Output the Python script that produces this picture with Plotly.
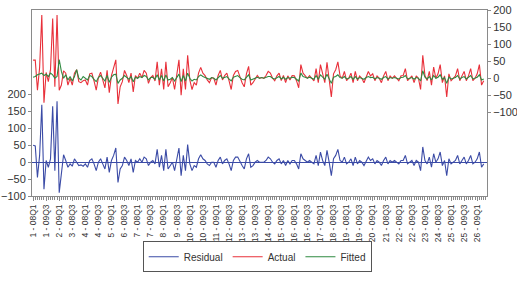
import plotly.graph_objects as go

residual = [50, 48, -45, 20, 170, -80, 5, -15, 10, 165, -25, 180, -90, -40, 22, 5,
            -15, -5, -12, 10, 0, -10, -8, -12, -5, -15, 5, 10, -5, -25, 0,
            10, -5, -20, 15, -30, 5, 20, 42, -60, -20, -10, 15, 5, -10, 10,
            -30, 5, 0, 10, 0, 15, 10, -10, 0, 5, -5, 38, -15, 20, -25,
            38, -20, -10, 0, -25, 5, 42, -40, 20, -25, 52, -5, -25, -10, -15,
            10, 22, 10, 5, -5, -10, 0, 0, -15, 5, 15, -5, 5, 10, -5,
            -25, 5, 15, 15, 0, -10, -20, 10, 25, -15, -10, 0, 5, 0, 0,
            0, 5, 15, 10, 0, -5, 5, 10, -5, 5, -10, 5, -5, 5, 5,
            -5, -20, 25, 10, 5, 0, 5, 0, -5, 20, -10, 30, 5, -10, 35,
            0, -40, 10, 20, 38, 5, 0, 15, -5, 0, 10, -10, 15, -5, 5,
            0, -10, 5, 15, 5, 10, -5, 5, 0, -10, 5, 15, -5, 5, 0,
            5, 0, -5, 5, 5, 20, -5, 0, 5, -10, 5, 0, -25, 45, 5,
            -5, 15, -15, 25, 0, 10, 30, -10, 5, -40, 10, -5, 0, 5, 20,
            -5, 5, 15, -5, 5, 20, -5, 0, 10, 30, -15, -5]

fitted = [3, 5, 10, 12, 15, 8, 12, 5, 15, 10, 0, 5, 55, 20, 0, 10,
          -5, 5, -8, 5, 25, 0, -5, 5, 0, -5, 8, 5, -3, -10, 2,
          8, 0, -8, 8, -12, 3, 10, 12, -15, -5, 0, 8, 3, -3, 5,
          -10, 3, 0, 5, 2, 8, 5, -5, 2, 3, -3, 10, -5, 8, -8,
          10, -5, -3, 2, -8, 3, 12, -10, 8, -8, 15, 0, -8, -3, -5,
          5, 10, 5, 3, 0, -3, 2, 0, -5, 3, 8, 0, 3, 5, -2,
          -8, 3, 5, 8, 2, -3, -5, 3, 10, -5, -3, 0, 3, 0, 2,
          0, 3, 5, 5, 0, -2, 2, 5, -2, 3, -3, 2, 0, 3, 2,
          -2, -8, 15, 5, 3, 0, 3, 0, -3, 8, -3, 10, 3, -3, 12,
          0, -15, 3, 5, 10, 2, 0, 5, -2, 0, 5, -3, 5, -2, 2,
          0, -3, 2, 5, 2, 3, -2, 2, 0, -3, 2, 5, -2, 2, 0,
          2, 0, -2, 2, 3, 8, -2, 0, 2, -3, 2, 0, -8, 22, 3,
          -2, 5, -5, 8, 0, 3, 10, -3, 2, -15, 3, -2, 0, 2, 8,
          -2, 2, 5, -2, 2, 8, -2, 0, 3, 10, -5, -2]

actual = [53, 53, -35, 32, 185, -72, 17, -10, 25, 175, -25, 185, -35, -20, 22, 15,
          -20, 0, -20, 15, 25, -10, -13, -7, -5, -20, 13, 15, -8, -35, 2,
          18, -5, -28, 23, -42, 8, 30, 54, -75, -25, -10, 23, 8, -13, 15,
          -40, 8, 0, 15, 2, 23, 15, -15, 2, 8, -8, 48, -20, 28, -33,
          48, -25, -13, 2, -33, 8, 54, -50, 28, -33, 67, -5, -33, -13, -20,
          15, 32, 15, 8, -5, -13, 2, 0, -20, 8, 23, -5, 8, 15, -7,
          -33, 8, 20, 23, 2, -13, -25, 13, 35, -20, -13, 0, 8, 0, 2,
          0, 8, 20, 15, 0, -7, 7, 15, -7, 8, -13, 7, -5, 8, 7,
          -7, -28, 40, 15, 8, 0, 8, 0, -8, 28, -13, 40, 8, -13, 47,
          0, -55, 13, 25, 48, 7, 0, 20, -7, 0, 15, -13, 20, -7, 7,
          0, -13, 7, 20, 7, 13, -7, 7, 0, -13, 7, 20, -7, 7, 0,
          7, 0, -7, 7, 8, 28, -7, 0, 7, -13, 7, 0, -33, 67, 8,
          -7, 20, -20, 33, 0, 13, 40, -13, 7, -55, 13, -7, 0, 7, 28,
          -7, 7, 20, -7, 7, 28, -7, 0, 13, 40, -20, -7]

# observation labels: cross-section id - period (8 quarters per id)
ids = list(range(1, 27))
periods = ["08Q1", "08Q2", "08Q3", "08Q4", "09Q1", "09Q2", "09Q3", "09Q4"]
obs_labels = [f"{i} - {p}" for i in ids for p in periods]
obs = list(range(len(obs_labels)))
label_step = 6
tick_pos = obs[::label_step]
tick_text = obs_labels[::label_step]

left_ticks = [-100, -50, 0, 50, 100, 150, 200]
right_ticks = [-100, -50, 0, 50, 100, 150, 200]

FONT = "Liberation Sans, Arial, sans-serif"
AXC = "#8a8a8a"
TXT = "#333333"

fig = go.Figure()
fig.add_trace(go.Scatter(x=obs, y=residual, name="Residual", mode="lines",
                         line=dict(color="#3b4ba6", width=1.1), yaxis="y"))
fig.add_trace(go.Scatter(x=obs, y=actual, name="Actual", mode="lines",
                         line=dict(color="#e8303a", width=1.1), yaxis="y2"))
fig.add_trace(go.Scatter(x=obs, y=fitted, name="Fitted", mode="lines",
                         line=dict(color="#2f8a40", width=1.1), yaxis="y2"))

fig.update_layout(
    width=517, height=282,
    margin=dict(l=32, r=30, t=10, b=83),
    paper_bgcolor="white", plot_bgcolor="white",
    font=dict(family=FONT, color=TXT, size=11),
    showlegend=True,
    legend=dict(orientation="h", xanchor="center", x=0.495, yanchor="bottom", y=-0.41,
                bordercolor="#555555", borderwidth=1, font=dict(size=10, color=TXT),
                itemwidth=30, tracegroupgap=0, bgcolor="white"),
    xaxis=dict(range=[-0.5, 208.5], tickmode="array", tickvals=tick_pos, ticktext=tick_text,
               tickangle=-90, tickfont=dict(size=8.5, color=TXT), ticks="outside", ticklen=4,
               tickcolor=AXC, showgrid=False, zeroline=False, showline=True,
               linecolor=AXC, linewidth=1, mirror=True, automargin=False,
               minor=dict(dtick=1, tick0=0, ticks="outside", ticklen=3, tickcolor=AXC)),
    yaxis=dict(range=[-100, 450], tickmode="array", tickvals=left_ticks,
               tickfont=dict(size=11, color=TXT), ticks="outside", ticklen=3, tickcolor=AXC,
               showgrid=False, showline=True, linecolor=AXC, linewidth=1, automargin=False,
               zeroline=True, zerolinecolor="#3b4ba6", zerolinewidth=1),
    yaxis2=dict(range=[-345, 200], overlaying="y", side="right", tickmode="array",
                tickvals=right_ticks, tickfont=dict(size=11, color=TXT), ticks="outside",
                ticklen=3, tickcolor=AXC, showgrid=False, showline=True, linecolor=AXC,
                linewidth=1, zeroline=False, automargin=False),
)

fig.write_html("out.html")
